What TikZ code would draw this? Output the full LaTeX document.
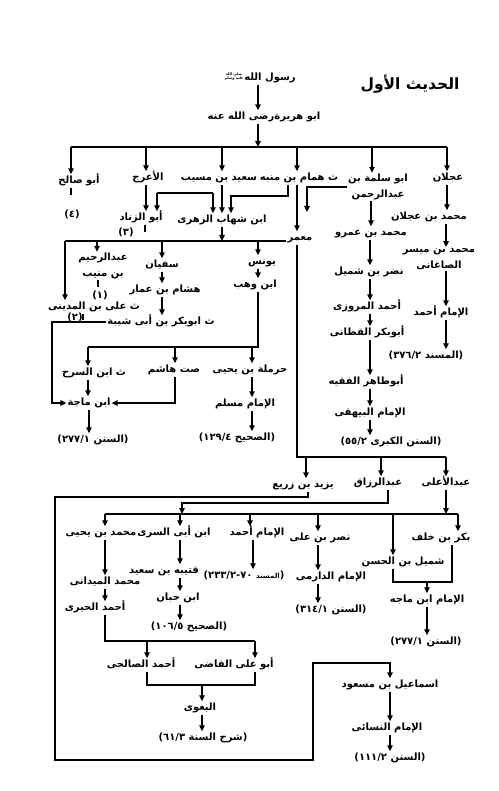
\documentclass[tikz,border=0pt]{standalone}
\usepackage{fontspec}
\usetikzlibrary{arrows.meta}
\TeXXeTstate=1
\newfontfamily\arabicfont[Script=Arabic,BoldFont={DejaVu Sans Bold}]{DejaVu Sans}
\newfontfamily\pfont[BoldFont={DejaVu Sans Bold}]{DejaVu Sans}
\newcommand{\A}[1]{\beginR #1\endR}
\newcommand{\N}[1]{\beginL #1\endL{}}
\newcommand{\PL}{{\pfont\bfseries(}}
\newcommand{\PR}{{\pfont\bfseries)}}
\newcommand{\Cit}[2]{\PL\N{#2} \A{#1}\PR}
\begin{document}
\begin{tikzpicture}[x=1pt,y=-1pt,
  t/.style={font={\arabicfont\bfseries\fontsize{10}{12}\selectfont}, inner sep=1pt, text height=8pt, text depth=3pt},
  t2/.style={font={\arabicfont\bfseries\fontsize{10}{16}\selectfont}, inner sep=1pt, align=center},
  lig/.style={font={\arabicfont\bfseries\fontsize{3.6}{4}\selectfont}, inner sep=0pt, align=center},
  ttl/.style={font={\arabicfont\bfseries\fontsize{15.5}{18}\selectfont}, inner sep=1pt},
  ln/.style={line width=1.3pt},
  arr/.style={line width=1.3pt, -{Triangle[length=6pt,width=5.5pt]}}]
\useasboundingbox (0,0) rectangle (498,791);
\fill[white] (0,0) rectangle (498,791);
% column / row coordinates
\foreach \v in {52,55,65,71,83,88,89,97,98,105,145,146,147,157,162,175,180,182,202,213,222,231,250,252,253,255,258,288,297,306,307,308,313,318,370,371,372,381,388,390,393,427,446,447,452,458}
  \coordinate (x\v) at (\v,0);
\foreach \v in {147,193,196,241,347,457,497,503,514,582,641,663,685,760}
  \coordinate (y\v) at (0,\v);
% ---------------- nodes ----------------
\node[ttl] (title) at (410,84) {\A{الحديث الأول}};
\node[t] (rasul) at (270,78) {\A{رسول الله}};
\node[lig] (saw) at (234,77) {\A{صلى الله}\\\A{عليه وسلم}};
\node[t] (abuh) at (264,117) {\A{ابو هريرةرضى الله عنه}};
\node[t] (abusalih) at (79,181) {\A{أبو صالح}};
\node[t] (araj) at (148,178) {\A{الأعرج}};
\node[t] (saeed) at (219,178) {\A{سعيد بن مسيب}};
\node[t] (hammam) at (299,178) {\A{ث همام بن منبه}};
\node[t2] (abusalama) at (378,187) {\A{ابو سلمة بن}\\\A{عبدالرحمن}};
\node[t] (ajlan) at (448,178) {\A{عجلان}};
\node[t] (abuzinad) at (141,218) {\A{أبو الزناد}};
\node[t] (zuhri) at (222,220) {\A{ابن شهاب الزهرى}};
\node[t] (mamar) at (300,238) {\A{معمر}};
\node[t] (mamr) at (371,233) {\A{محمد بن عمرو}};
\node[t] (ibnajlan) at (429,217) {\A{محمد بن عجلان}};
\node[t2] (mmaysar) at (439,259) {\A{محمد بن ميسر}\\\A{الصاغانى}};
\node[t] (ahmad1) at (441,313) {\A{الإمام أحمد}};
\node[t] (musnad1) at (426,356) {\Cit{المسند}{٣٧٦/٢}};
\node[t] (nadr) at (369,272) {\A{نضر بن شميل}};
\node[t] (marwazi) at (367,307) {\A{أحمد المروزى}};
\node[t] (qattani) at (367,333) {\A{أبوبكر القطانى}};
\node[t] (abutahir) at (366,382) {\A{أبوطاهر الفقيه}};
\node[t] (bayhaqi) at (370,413) {\A{الإمام البيهقى}};
\node[t] (sunankubra) at (391,442) {\Cit{السنن الكبرى}{٥٥/٢}};
\node[t2] (abdurrahim) at (103,266) {\A{عبدالرحيم}\\\A{بن منيب}};
\node[t] (sufyan) at (162,265) {\A{سفيان}};
\node[t] (hisham) at (165,290) {\A{هشام بن عمار}};
\node[t] (abubakr) at (161,322) {\A{ث ابوبكر بن أبى شيبة}};
\node[t] (madini) at (94,307) {\A{ث على بن المدينى}};
\node[t] (yunus) at (262,262) {\A{يونس}};
\node[t] (ibnwahb) at (255,285) {\A{ابن وهب}};
\node[t] (ibnsarh) at (94,373) {\A{ث ابن السرح}};
\node[t] (samit) at (174,370) {\A{صت هاشم}};
\node[t] (harmala) at (250,370) {\A{حرملة بن يحيى}};
\node[t] (ibnmajah1) at (89,403) {\A{ابن ماجة}};
\node[t] (muslim) at (245,404) {\A{الإمام مسلم}};
\node[t] (sahih1) at (237,438) {\Cit{الصحيح}{١٢٩/٤}};
\node[t] (sunan1) at (93,440) {\Cit{السنن}{٢٧٧/١}};
\node[t] (yazid) at (303,485) {\A{يزيد بن زريع}};
\node[t] (abdurrazzaq) at (378,483) {\A{عبدالرزاق}};
\node[t] (abdulala) at (446,483) {\A{عبدالأعلى}};
\node[t] (myahya) at (101,533) {\A{محمد بن يحيى}};
\node[t] (ibnabisari) at (174,533) {\A{ابن أبى السرى}};
\node[t] (ahmad2) at (257,533) {\A{الإمام أحمد}};
\node[t] (nasr) at (320,538) {\A{نصر بن على}};
\node[t] (bakr) at (441,538) {\A{بكر بن خلف}};
\node[t] (shumayl) at (403,562) {\A{شميل بن الحسن}};
\node[t] (qutayba) at (164,571) {\A{قتيبه بن سعيد}};
\node[t] (musnad2) at (244,576) {\PL\N{٧٠-٢٣٣/٢} {\fontsize{7}{9}\selectfont\A{المسند}}\PR};
\node[t] (darimi) at (331,577) {\A{الإمام الدارمى}};
\node[t] (maydani) at (105,582) {\A{محمد الميدانى}};
\node[t] (ibnhibban) at (178,598) {\A{ابن حبان}};
\node[t] (hiri) at (95,608) {\A{أحمد الحيرى}};
\node[t] (ibnmajah2) at (427,600) {\A{الإمام ابن ماجه}};
\node[t] (sunan3) at (331,610) {\Cit{السنن}{٣١٤/١}};
\node[t] (sahih2) at (189,627) {\Cit{الصحيح}{١٠٦/٥}};
\node[t] (sunan4) at (426,642) {\Cit{السنن}{٢٧٧/١}};
\node[t] (salihi) at (141,665) {\A{أحمد الصالحى}};
\node[t] (qadi) at (234,665) {\A{أبو على القاضى}};
\node[t] (ismail) at (390,685) {\A{اسماعيل بن مسعود}};
\node[t] (baghawi) at (200,708) {\A{البغوى}};
\node[t] (nasai) at (387,728) {\A{الإمام النسائى}};
\node[t] (sharh) at (203,738) {\Cit{شرح السنة}{٦١/٣}};
\node[t] (sunan5) at (390,758) {\Cit{السنن}{١١١/٢}};
% footnote marks
\node[t] (fn4) at (72,215) {\PL\N{٤}\PR};
\node[t] (fn3) at (126,233) {\PL\N{٣}\PR};
\node[t] (fn1) at (100,296) {\PL\N{١}\PR};
\node[t] (fn2) at (75,318) {\PL\N{٢}\PR};
% ---------------- connectors ----------------
\draw[arr] (rasul.south -| x258) -- (abuh.north -| x258);
\draw[arr] (abuh.south -| x258) -- (x258 |- y147);
\draw[ln] (x71 |- y147) -- (x447 |- y147);
\draw[arr] (x71 |- y147) -- (abusalih.north -| x71);
\draw[arr] (x146 |- y147) -- (araj.north -| x146);
\draw[arr] (x222 |- y147) -- (saeed.north -| x222);
\draw[arr] (x297 |- y147) -- (hammam.north -| x297);
\draw[arr] (x372 |- y147) -- (abusalama.north -| x372);
\draw[arr] (x447 |- y147) -- (ajlan.north -| x447);
% ticks
\draw[ln] (abusalih.south -| x71) -- ++(0,7);
\draw[ln] (abuzinad.south -| x145) -- ++(0,7);
\draw[ln] (abdurrahim.south -| x98) -- ++(0,7);
\draw[ln] (madini.south -| x83) -- ++(0,6);
% second level
\draw[arr] (araj.south -| x146) -- (abuzinad.north -| x146);
\draw[ln] (x157 |- y193) -- (x213 |- y193);
\draw[arr] (x157 |- y193) -- (abuzinad.north -| x157);
\draw[arr] (x213 |- y193) -- (zuhri.north -| x213);
\draw[arr] (saeed.south -| x222) -- (zuhri.north -| x222);
\draw[arr] (hammam.south -| x288) |- (x231 |- y196) -- (zuhri.north -| x231);
\draw[arr] (hammam.south -| x297) -- (mamar.north -| x297);
\coordinate (k307) at (307,212);
\draw[arr] (abusalama.west) -| (k307);
\draw[arr] (abusalama.south -| x371) -- (mamr.north -| x371);
% zuhri bar
\draw[arr] (zuhri.south -| x222) -- (x222 |- y241);
\draw[ln] (x65 |- y241) -- (mamar.west |- y241);
\draw[arr] (x65 |- y241) -- (madini.north -| x65);
\draw[arr] (x97 |- y241) -- (abdurrahim.north -| x97);
\draw[arr] (x162 |- y241) -- (sufyan.north -| x162);
\draw[arr] (x258 |- y241) -- (yunus.north -| x258);
\draw[arr] (sufyan.south -| x162) -- (hisham.north -| x162);
\draw[arr] (hisham.south -| x162) -- (abubakr.north -| x162);
\draw[arr] (yunus.south -| x258) -- (ibnwahb.north -| x258);
\draw[ln] (ibnwahb.south -| x258) -- (x258 |- y347) -- (x88 |- y347);
\draw[arr] (x88 |- y347) -- (ibnsarh.north -| x88);
\draw[arr] (x175 |- y347) -- (samit.north -| x175);
\draw[arr] (x252 |- y347) -- (harmala.north -| x252);
\draw[arr] (abubakr.west) -| (x52 |- ibnmajah1.west) -- (ibnmajah1.west);
\draw[arr] (ibnsarh.south -| x88) -- (ibnmajah1.north -| x88);
\draw[arr] (samit.south -| x175) |- (ibnmajah1.east);
\draw[arr] (ibnmajah1.south -| x89) -- (sunan1.north -| x89);
\draw[arr] (harmala.south -| x252) -- (muslim.north -| x252);
\draw[arr] (muslim.south -| x252) -- (sahih1.north -| x252);
% ajlan chain
\draw[arr] (ajlan.south -| x447) -- (ibnajlan.north -| x447);
\draw[arr] (ibnajlan.south -| x446) -- (mmaysar.north -| x446);
\draw[arr] (mmaysar.south -| x446) -- (ahmad1.north -| x446);
\draw[arr] (ahmad1.south -| x446) -- (musnad1.north -| x446);
% abu salama chain
\draw[arr] (mamr.south -| x370) -- (nadr.north -| x370);
\draw[arr] (nadr.south -| x370) -- (marwazi.north -| x370);
\draw[arr] (marwazi.south -| x370) -- (qattani.north -| x370);
\draw[arr] (qattani.south -| x370) -- (abutahir.north -| x370);
\draw[arr] (abutahir.south -| x370) -- (bayhaqi.north -| x370);
\draw[arr] (bayhaqi.south -| x370) -- (sunankubra.north -| x370);
% mamar bar
\draw[ln] (mamar.south -| x297) -- (x297 |- y457) -- (x446 |- y457);
\draw[arr] (x306 |- y457) -- (yazid.north -| x306);
\draw[arr] (x381 |- y457) -- (abdurrazzaq.north -| x381);
\draw[arr] (x446 |- y457) -- (abdulala.north -| x446);
% yazid big loop
\draw[arr] (yazid.south -| x308) -- (x308 |- y497) -- (x55 |- y497) -- (x55 |- y760) -- (x313 |- y760) -- (x313 |- y663) -- (x390 |- y663) -- (ismail.north -| x390);
% abdurrazzaq and abdulala to lower bar
\draw[arr] (abdurrazzaq.south -| x388) -- (x388 |- y503) -- (x182 |- y503) -- (x182 |- y514);
\draw[arr] (abdulala.south -| x446) -- (x446 |- y514);
\draw[ln] (x105 |- y514) -- (x458 |- y514);
\draw[arr] (x105 |- y514) -- (myahya.north -| x105);
\draw[arr] (x180 |- y514) -- (ibnabisari.north -| x180);
\draw[arr] (x250 |- y514) -- (ahmad2.north -| x250);
\draw[arr] (x318 |- y514) -- (nasr.north -| x318);
\draw[arr] (x393 |- y514) -- (shumayl.north -| x393);
\draw[arr] (x458 |- y514) -- (bakr.north -| x458);
% lower left
\draw[arr] (myahya.south -| x105) -- (maydani.north -| x105);
\draw[arr] (maydani.south -| x105) -- (hiri.north -| x105);
\draw[ln] (hiri.south -| x105) -- (x105 |- y641) -- (x255 |- y641);
\draw[arr] (x147 |- y641) -- (salihi.north -| x147);
\draw[arr] (x255 |- y641) -- (qadi.north -| x255);
\draw[ln] (salihi.south -| x147) -- (x147 |- y685) -- (x255 |- y685) -- (qadi.south -| x255);
\draw[arr] (x202 |- y685) -- (baghawi.north -| x202);
\draw[arr] (baghawi.south -| x202) -- (sharh.north -| x202);
\draw[arr] (ibnabisari.south -| x180) -- (qutayba.north -| x180);
\draw[arr] (qutayba.south -| x180) -- (ibnhibban.north -| x180);
\draw[arr] (ibnhibban.south -| x180) -- (sahih2.north -| x180);
\draw[arr] (ahmad2.south -| x253) -- (musnad2.north -| x253);
\draw[arr] (nasr.south -| x318) -- (darimi.north -| x318);
\draw[arr] (darimi.south -| x318) -- (sunan3.north -| x318);
\draw[ln] (bakr.south -| x452) -- (x452 |- y582) -- (x393 |- y582) -- (shumayl.south -| x393);
\draw[arr] (x427 |- y582) -- (ibnmajah2.north -| x427);
\draw[arr] (ibnmajah2.south -| x427) -- (sunan4.north -| x427);
\draw[arr] (ismail.south -| x390) -- (nasai.north -| x390);
\draw[arr] (nasai.south -| x390) -- (sunan5.north -| x390);
\end{tikzpicture}
\end{document}
